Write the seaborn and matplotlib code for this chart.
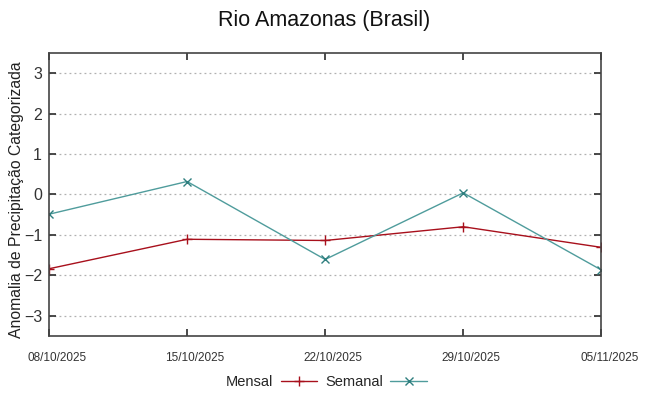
import pandas as pd
import seaborn as sns
import matplotlib.pyplot as plt
import matplotlib.dates as mdates
import matplotlib.transforms as mtransforms

# data
dates = ['2025-10-08', '2025-10-15', '2025-10-22', '2025-10-29', '2025-11-05']
mensal = [-1.84, -1.11, -1.14, -0.80, -1.31]
semanal = [-0.49, 0.32, -1.61, 0.04, -1.87]
yticks = [-3, -2, -1, 0, 1, 2, 3]

df = pd.DataFrame({'date': pd.to_datetime(dates), 'Mensal': mensal, 'Semanal': semanal})

sns.set_theme(style='white')
plt.rcParams['font.family'] = ['Liberation Sans', 'DejaVu Sans']

fig = plt.figure(figsize=(6.49, 3.96), dpi=100)
ax = fig.add_axes([0.0755, 0.152, 0.851, 0.714])

sns.lineplot(x='date', y='Mensal', data=df, ax=ax, color='#a8101c', linewidth=1,
             marker='+', markersize=7, markeredgewidth=1, markeredgecolor='#a8101c', label='Mensal')
sns.lineplot(x='date', y='Semanal', data=df, ax=ax, color='#4f9c9c', linewidth=1,
             marker='x', markersize=6, markeredgewidth=1, markeredgecolor='#2f7f7f', label='Semanal')

ax.set_xlim(df['date'].iloc[0], df['date'].iloc[-1])
ax.set_ylim(-3.5, 3.5)
ax.set_xticks(df['date'])
ax.xaxis.set_major_formatter(mdates.DateFormatter('%d/%m/%Y'))
ax.set_yticks(yticks)
ax.tick_params(axis='x', labelsize=8.5, direction='in', top=True, bottom=True, length=5, pad=12, colors='#333333')
ax.tick_params(axis='y', labelsize=11.5, direction='in', left=True, right=True, length=5, pad=5, colors='#333333')
# gnuplot-style: date labels sit a bit right of their ticks
shift = mtransforms.ScaledTranslation(8 / 100, 0, fig.dpi_scale_trans)
for lbl in ax.get_xticklabels():
    lbl.set_transform(lbl.get_transform() + shift)
for lbl in ax.get_xticklabels() + ax.get_yticklabels():
    lbl.set_color('#333333')
ax.grid(True, axis='y', linestyle=(0, (1.5, 2.5)), color='#b0b0b0', linewidth=0.9)
for s in ax.spines.values():
    s.set_color('#444444')
    s.set_linewidth(1.2)

ax.set_xlabel('')
ax.set_ylabel('Anomalia de Precipitação Categorizada', fontsize=11.3, color='#222222')
ax.yaxis.set_label_coords(-0.045, 0.48)
fig.suptitle('Rio Amazonas (Brasil)', fontsize=15.5, y=0.975, color='#111111')

ax.get_legend().remove()
handles, labels = ax.get_legend_handles_labels()
fig.legend(handles, labels, loc='center', bbox_to_anchor=(0.503, 0.035), ncol=2,
           markerfirst=False, frameon=False, fontsize=10.5, handlelength=2.5,
           columnspacing=0.55, handletextpad=0.5)

fig.savefig('out.png', dpi=100)
